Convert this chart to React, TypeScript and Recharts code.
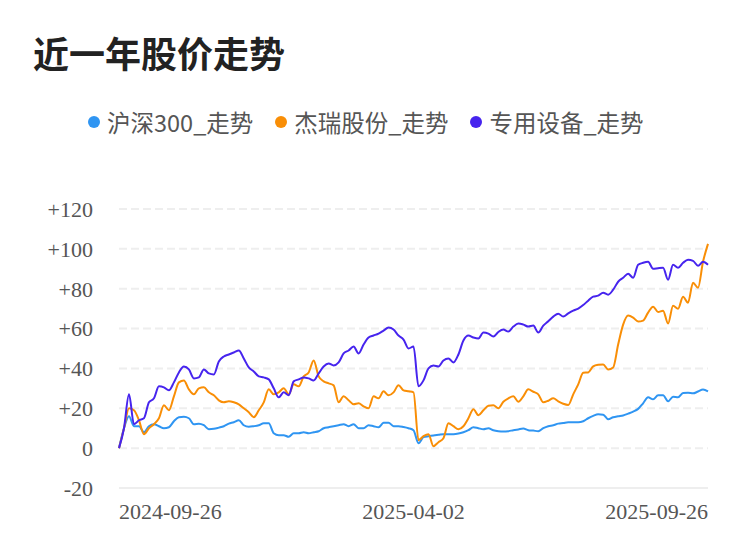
import { CartesianGrid, Line, LineChart, XAxis, YAxis } from "recharts";

const tickDates = ["2024-09-26", "2025-04-02", "2025-09-26"];
const tickIndex = [0, 59, 118];
const yTicks = [-20, 0, 20, 40, 60, 80, 100, 120];

const seriesNames = ["沪深300_走势", "杰瑞股份_走势", "专用设备_走势"];
const seriesColors = ["#2f95f2", "#f98e06", "#4624ee"];

// 沪深300
const hs300 = [
    0, 10, 16, 11, 11, 8, 11, 12, 11, 10,
    10.5, 13.5, 15.5, 15.7, 15, 12, 12.3, 11.5, 9.5, 9.7,
    10.3, 11, 12.3, 13, 14, 11.5, 10.7, 11, 11.5, 12.5,
    12.5, 7.5, 6.5, 6.5, 5.7, 7.5, 7.5, 8, 7.5, 8,
    8.5, 10, 10.5, 11, 11.5, 12, 11, 12, 10, 10,
    11.5, 11, 10.5, 12.7, 12.8, 11, 11, 10.6, 10, 9,
    2.5, 5.5, 6, 6.4, 6.7, 7, 7, 7, 7.3, 8,
    9, 10.5, 10, 9.5, 10, 9, 8.5, 8.3, 8.5, 9,
    9.4, 9.8, 9, 8.8, 8.5, 10, 11, 11.5, 12.3, 12.6,
    13, 13, 13, 13.5, 15, 16.2, 17, 16.8, 14.5, 15.5,
    16, 16.4, 17.3, 18.3, 19.7, 22.5, 25.5, 24.5, 26.5, 26.5,
    23.5, 25.8, 25.5, 27.7, 27.8, 27.5, 28.4, 29.4, 28.5,
];

// 杰瑞股份
const jereh = [
    0, 10, 20, 19, 14, 7, 10, 12, 15, 21.5,
    19, 26, 33, 34, 29.5, 27, 30, 30.5, 28, 26.5,
    24, 23, 23.5, 23, 22, 20, 18, 15.5, 19, 23,
    29.5, 27, 28, 30, 27, 32, 31, 36, 38, 44,
    36, 33.5, 32.5, 31.5, 23, 26, 24, 22, 22.5, 21,
    20, 26, 25, 28.5, 26.5, 28, 31.5, 29, 28.5, 28,
    4, 6, 7, 1, 3, 5, 12.5, 11, 9.5, 11,
    15, 19.5, 16.5, 19, 21.3, 21.5, 20, 23.3, 25, 26,
    23.3, 26, 29.5, 28.3, 27, 23, 23.8, 25, 23.5, 22.3,
    21.7, 27, 32, 37.8, 38, 41, 41.8, 42, 39.5, 40.5,
    52, 62, 66.5, 65.5, 63.5, 64, 68, 71, 68.3, 69,
    62.5, 71.5, 70, 76, 73, 83, 80.5, 93.5, 102.5,
];

// 专用设备
const equipment = [
    0, 10, 27, 12, 14, 15, 23, 25, 31, 30.5,
    29, 33, 38, 41, 39.5, 35, 35.5, 39.5, 37.5, 37,
    43.5, 46, 47, 48, 49, 45, 40.5, 38.5, 36, 35.5,
    34.5, 30, 25.5, 28, 26.5, 33.5, 34.5, 35.5, 35, 34,
    37.5, 41, 42.5, 41.5, 43, 47.5, 49, 51, 47.5, 52,
    55.5, 56.5, 57.5, 59, 60.5, 59.5, 56.5, 54.5, 50, 51,
    31, 34, 40, 41.5, 41, 44, 45, 43, 47, 54,
    56.5, 55.5, 55, 58, 57.5, 56, 58.3, 59.5, 58.5, 61,
    62.5, 62, 61, 61.5, 58, 61.5, 63.7, 66, 67.5, 66,
    67.6, 69, 70, 71.8, 74, 76, 76.5, 78, 77, 79.5,
    83.5, 85.5, 87.5, 85.5, 92, 93, 93.5, 90, 90.3, 90.5,
    84.5, 92, 90.5, 93, 94.5, 94, 91.5, 93.5, 92,
];

const data = hs300.map((v, i) => ({ i, hs300: v, jereh: jereh[i], equipment: equipment[i] }));
const keys = ["hs300", "jereh", "equipment"];

const axisFont = "'Liberation Serif', 'Times New Roman', serif";

function DateTick(props: any) {
    const { x, y, payload } = props;
    const pos = tickIndex.indexOf(payload.value);
    const anchor = pos === 0 ? "start" : pos === tickIndex.length - 1 ? "end" : "middle";
    return (
        <text x={x} y={y} dy={31} textAnchor={anchor} fill="#555" fontSize={22} fontFamily={axisFont}>
            {tickDates[pos]}
        </text>
    );
}

export default function App() {
    return (
        <div style={{ position: "absolute", left: 0, top: 0, width: 750, height: 558, background: "#fff", overflow: "hidden" }}>
            <div
                style={{
                    position: "absolute",
                    left: 33,
                    top: 34,
                    fontSize: 36,
                    lineHeight: "36px",
                    fontWeight: 700,
                    color: "#222",
                    fontFamily: "'Noto Sans CJK SC', sans-serif",
                    whiteSpace: "nowrap",
                }}
            >
                近一年股价走势
            </div>
            <div
                style={{
                    position: "absolute",
                    left: 88,
                    top: 108,
                    height: 28,
                    display: "flex",
                    alignItems: "center",
                    fontSize: 23.5,
                    color: "#555",
                    fontFamily: "'Noto Sans CJK SC', sans-serif",
                    whiteSpace: "nowrap",
                }}
            >
                {seriesNames.map((name, k) => (
                    <div key={name} style={{ display: "flex", alignItems: "center", marginRight: 22 }}>
                        <span
                            style={{
                                width: 12,
                                height: 12,
                                borderRadius: 6,
                                background: seriesColors[k],
                                marginRight: 7,
                                display: "inline-block",
                            }}
                        />
                        <span>{name}</span>
                    </div>
                ))}
            </div>
            <div style={{ position: "absolute", left: 0, top: 0 }}>
                <LineChart width={750} height={558} data={data} margin={{ top: 209, right: 42, bottom: 40, left: 0 }}>
                    <CartesianGrid strokeDasharray="8 4" stroke="#eeeeee" strokeWidth={2} vertical={false} />
                    <XAxis
                        dataKey="i"
                        type="number"
                        domain={[0, 118]}
                        ticks={tickIndex}
                        interval={0}
                        height={30}
                        tickSize={0}
                        tickMargin={0}
                        tick={<DateTick />}
                        axisLine={{ stroke: "#eeeeee", strokeWidth: 2 }}
                        tickLine={false}
                    />
                    <YAxis
                        domain={[-20, 120]}
                        ticks={yTicks}
                        interval={0}
                        width={119}
                        tickSize={0}
                        tickMargin={26}
                        axisLine={false}
                        tickLine={false}
                        tick={{ fill: "#555", fontSize: 22, fontFamily: axisFont }}
                        tickFormatter={(v) => (v > 0 ? `+${v}` : `${v}`)}
                    />
                    {keys.map((key, k) => (
                        <Line
                            key={key}
                            type="monotone"
                            dataKey={key}
                            stroke={seriesColors[k]}
                            strokeWidth={2}
                            dot={false}
                            isAnimationActive={false}
                        />
                    ))}
                </LineChart>
            </div>
        </div>
    );
}
